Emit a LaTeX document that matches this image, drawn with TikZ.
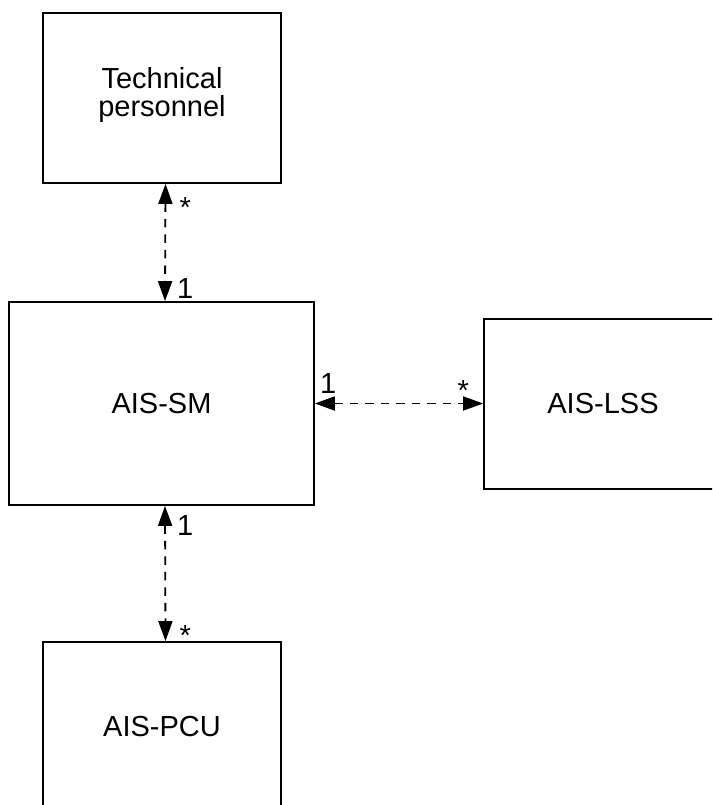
\documentclass[tikz,border=0pt]{standalone}
\usepackage{fontspec}
\setmainfont{Liberation Sans}
\usepackage{tikz}
\usetikzlibrary{arrows.meta,positioning}

\tikzset{
  block/.style={draw,line width=1.8pt,minimum width=238pt,minimum height=170pt,
    inner sep=0pt,align=center,font=\fontsize{29}{28}\selectfont},
  assoc/.style={line width=1.8pt,dash pattern=on 8.5pt off 7pt,
    {Triangle[length=20pt,width=14pt]}-{Triangle[length=20pt,width=14pt]}},
  mult/.style={inner sep=0pt,anchor=base west,font=\fontsize{29}{28}\selectfont}
}

\begin{document}
\begin{tikzpicture}[x=1pt,y=1pt]
  \useasboundingbox (0,0) rectangle (712,-805);
  \begin{scope}
    \clip (0,0) rectangle (712,-805);
    % blocks
    \node[block,text depth=12pt] (tech) at (162,-98) {Technical\\personnel};
    \node[block,minimum width=305pt,minimum height=203pt] (sm) at (161.5,-403.5) {AIS-SM};
    \node[block] (lss) at (603,-404) {AIS-LSS};
    \node[block] (pcu) at (162,-727) {AIS-PCU};
    % associations
    \draw[assoc] ([xshift=3.5pt]tech.south) -- ([xshift=3.5pt]sm.north);
    \draw[assoc] (sm.east) -- (sm.east -| lss.west);
    \draw[assoc] ([xshift=3.5pt]sm.south) -- ([xshift=3.5pt]pcu.north);
    % multiplicities
    \node[mult] (m1) at (179.5,-217) {*};
    \node[mult] (m2) at (177,-298) {1};
    \node[mult] (m3) at (320,-393) {1};
    \node[mult] (m4) at (457.5,-400) {*};
    \node[mult] (m5) at (177,-535) {1};
    \node[mult] (m6) at (179.5,-645) {*};
  \end{scope}
\end{tikzpicture}
\end{document}
